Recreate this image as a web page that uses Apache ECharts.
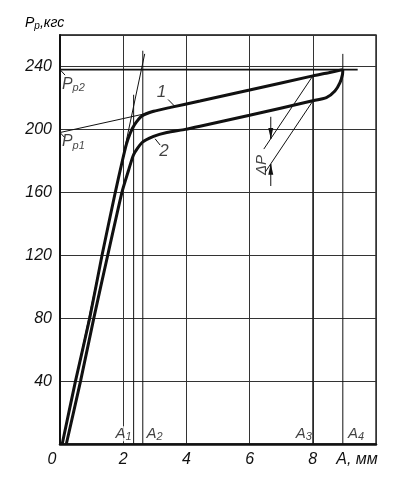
<!DOCTYPE html>
<html><head><meta charset="utf-8">
<script src="https://cdn.jsdelivr.net/npm/echarts@6/dist/echarts.min.js"></script>
<style>html,body{margin:0;padding:0;background:#fff}#c{width:400px;height:482px}</style>
</head><body><div id="c"></div>
<script>
// ---- data ----
const xTicks = [0, 2, 4, 6, 8];
const yTicks = [40, 80, 120, 160, 200, 240];
const xAxisTitle = 'A, мм';
const curve1 = [[0.07,0],[0.49,40],[0.94,80],[1.33,120],[1.75,160],[1.95,178],[2.1,190.5],[2.22,197.5],[2.36,203],[2.59,208.5],[2.96,211.5],[3.5,214],[4.43,218],[6.0,225],[8.0,234],[8.5,236],[8.95,238]];
const curve2 = [[0.2,0],[0.65,40],[1.07,80],[1.51,120],[1.96,160],[2.17,174],[2.33,184],[2.59,191.5],[2.96,195.5],[3.38,198],[3.96,200],[4.43,202],[6.0,209],[7.96,218],[8.43,220.2],[8.7,224.4],[8.86,229.7],[8.94,235],[8.95,238]];
const Pp1 = 198, Pp2 = 238;
const pp1Line = [[0,198],[3.0,211.3]];
const pp2Line = [[0,238],[9.42,238]];
const tangent1 = [[0.07,0],[2.68,248]];
const Apos = {A1:2.33, A2:2.62, A3:8, A4:8.95};
const Atop = {A1:222, A2:250, A3:234, A4:248};
const dPupper = [[8,234],[6.45,187.5]];
const dPlower = [[8,218],[6.5,173]];
const dPx = 6.67;
const dParrowDown = [[dPx,208],[dPx,194]];
const dParrowUp = [[dPx,164],[dPx,178]];
const leader1 = [[3.42,219],[3.64,214.5]];
const leader2 = [[3.01,194],[3.17,190]];
const leaderPp2 = [[0,238],[0.16,234.5]];
const leaderPp1 = [[0,198],[0.14,195]];
// annotation anchors (data coords) and texts
const notes = [
  {at:[3.21,223.5], text:'{b|1}', pos:'inside'},
  {at:[3.29,186], text:'{b|2}', pos:'inside'},
  {at:[0.06,228.5], text:'{i|P}{s|p2}', pos:'right'},
  {at:[0.06,192], text:'{i|P}{s|p1}', pos:'right'},
  {at:[2.27,6.5], text:'{a|A}{s|1}', pos:'left'},
  {at:[2.74,6.5], text:'{a|A}{s|2}', pos:'right'},
  {at:[7.97,6.5], text:'{a|A}{s|3}', pos:'left'},
  {at:[9.11,6.5], text:'{a|A}{s|4}', pos:'right'},
  {at:[6.39,177.4], text:'{d|ΔP}', pos:'inside', rotate:90}
];

// ---- styles ----
const FF = '"Liberation Sans", Arial, sans-serif';
const INK = '#111';
const rich = {
  i: {fontSize:16, fontStyle:'italic', fontFamily:FF, color:INK},
  t: {fontSize:14, fontStyle:'italic', fontFamily:FF, color:INK},
  ts: {fontSize:10, fontStyle:'italic', fontFamily:FF, color:INK, padding:[6,0,0,0]},
  a: {fontSize:15, fontStyle:'italic', fontFamily:FF, color:INK, backgroundColor:'#fff'},
  s: {fontSize:11, fontStyle:'italic', fontFamily:FF, color:INK, padding:[7,0,0,0], backgroundColor:'#fff'},
  b: {fontSize:17, fontStyle:'italic', fontFamily:FF, color:INK},
  d: {fontSize:15, fontStyle:'italic', fontFamily:FF, color:INK},
  u: {fontSize:16, fontStyle:'italic', fontFamily:FF, color:INK, padding:[0,38,0,0]},
  z: {fontSize:16, fontStyle:'italic', fontFamily:FF, color:INK, padding:[0,16,0,0]},
  n: {fontSize:16, fontStyle:'italic', fontFamily:FF, color:INK}
};

function seg(data, width) {
  return {type:'line', data, showSymbol:false, symbol:'none', silent:true, animation:false,
    lineStyle:{color:INK, width:width||1}, z:3};
}
function arrow(data, rot) {
  const tip = data[data.length-1], start = data[0];
  const dir = Math.sign(tip[1]-start[1]);
  const head = [tip[0], tip[1] - dir*3.4];
  return {type:'line', silent:true, animation:false, showSymbol:true, symbol:'none',
    lineStyle:{color:INK, width:1}, itemStyle:{color:INK}, z:4,
    data:[{value:start, symbol:'none'}, {value:tip, symbol:'none'},
          {value:head, symbol:'triangle', symbolSize:[5,11], symbolRotate:rot}]};
}

const series = [
  seg(curve1, 3), seg(curve2, 3),
  seg(pp2Line, 1.8), seg(pp1Line, 1), seg(tangent1, 1),
  seg(dPupper, 1), seg(dPlower, 1),
  seg(leader1, 1), seg(leader2, 1), seg(leaderPp2, 1), seg(leaderPp1, 1),
  arrow(dParrowDown, 180), arrow(dParrowUp, 0)
];
Object.keys(Apos).forEach(k => series.push(seg([[Apos[k],0],[Apos[k],Atop[k]]], 1)));
series[0].smooth = 0.2; series[1].smooth = 0.2;
series.push({
  type:'scatter', symbolSize:0, silent:true, animation:false, z:6,
  data: notes.map(n => ({value:n.at, label:{show:true, position:n.pos, distance:0,
      rotate:n.rotate||0, formatter:n.text, rich}}))
});

const chart = echarts.init(document.getElementById('c'), null, {renderer:'canvas'});
chart.setOption({
  backgroundColor:'#fff',
  animation:false,
  grid:{left:60, right:24, top:35, bottom:38, show:true, borderColor:INK, borderWidth:1.3},
  xAxis:{type:'value', min:0, max:10, interval:2,
    axisLine:{show:true, onZero:false, lineStyle:{color:INK, width:2.5}},
    axisTick:{show:false},
    splitLine:{show:true, lineStyle:{color:'#333', width:1}},
    axisLabel:{margin:8, rich,
      formatter: v => v===10 ? '{u|'+xAxisTitle+'}' : (v===0 ? '{z|0}' : (xTicks.includes(v) ? '{n|'+v+'}' : ''))}
  },
  yAxis:{type:'value', min:0, max:260, interval:40,
    axisLine:{show:true, onZero:false, lineStyle:{color:INK, width:2}},
    axisTick:{show:false},
    splitLine:{show:true, lineStyle:{color:'#333', width:1}},
    axisLabel:{margin:8, rich, formatter: v => yTicks.includes(v) ? '{n|'+v+'}' : ''}
  },
  graphic:[{type:'text', left:25, top:16, silent:true,
    style:{rich, text:'{t|P}{ts|p}{t|,кгс}'}}],
  series
});
</script></body></html>
